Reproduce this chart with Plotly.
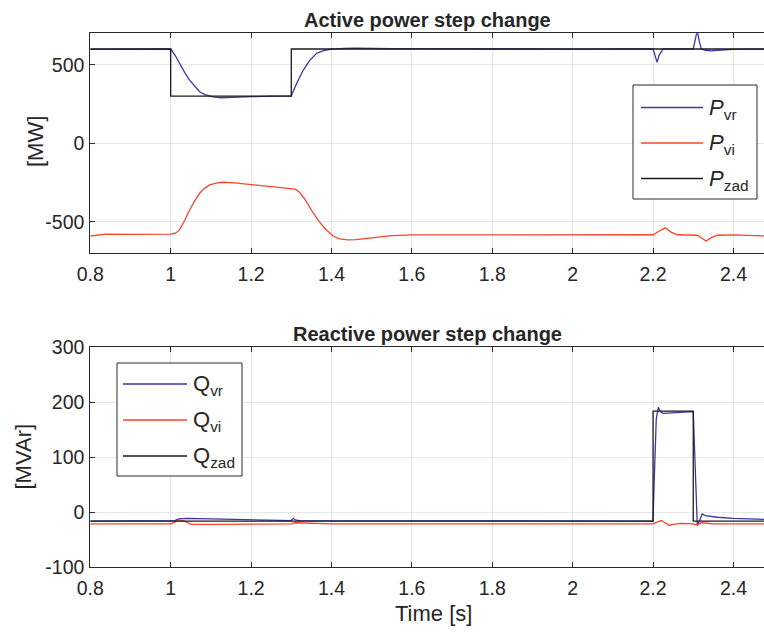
import plotly.graph_objects as go

# ---- Active power (MW) ----
t_pzad = [0.80, 1.00, 1.00, 1.30, 1.30, 2.48]
p_zad = [600, 600, 300, 300, 600, 600]

t_pvr = [0.80, 1.00, 1.011, 1.022, 1.035, 1.047, 1.06, 1.072, 1.085, 1.105, 1.125,
         1.15, 1.20, 1.25, 1.30, 1.315, 1.33, 1.345, 1.363, 1.38, 1.40, 1.43, 1.46,
         1.55, 1.70, 2.00, 2.20, 2.205, 2.21, 2.215, 2.225, 2.30, 2.305, 2.31, 2.315,
         2.32, 2.33, 2.345, 2.36, 2.40, 2.48]
p_vr = [598, 600, 560, 508, 450, 402, 360, 328, 310, 296, 290,
        291, 297, 300, 302, 390, 466, 525, 572, 590, 599, 604, 605,
        602, 600, 599, 600, 560, 515, 560, 600, 600, 650, 720, 650,
        600, 592, 588, 592, 598, 600]

t_pvi = [0.80, 0.84, 0.90, 1.00, 1.012, 1.022, 1.035, 1.047, 1.06, 1.072, 1.085,
         1.097, 1.115, 1.13, 1.16, 1.20, 1.25, 1.30, 1.31, 1.32, 1.335, 1.355, 1.37,
         1.385, 1.404, 1.42, 1.44, 1.46, 1.50, 1.55, 1.60, 2.00, 2.20, 2.215, 2.23,
         2.245, 2.26, 2.31, 2.32, 2.332, 2.345, 2.36, 2.40, 2.48]
p_vi = [-590, -578, -579, -578, -572, -551, -490, -424, -365, -318, -285,
        -265, -252, -248, -252, -262, -275, -285, -292, -310, -360, -445, -500,
        -545, -590, -608, -615, -613, -600, -588, -583, -583, -582, -560, -538,
        -565, -582, -585, -600, -622, -600, -585, -583, -590]

# ---- Reactive power (MVAr) ----
t_qzad = [0.80, 2.20, 2.20, 2.30, 2.30, 2.48]
q_zad = [-16, -16, 184, 184, -16, -16]

t_qvr = [0.80, 1.00, 1.01, 1.02, 1.04, 1.10, 1.20, 1.30, 1.305, 1.31, 1.32, 1.40,
         1.60, 2.00, 2.20, 2.203, 2.208, 2.213, 2.218, 2.225, 2.25, 2.30, 2.304,
         2.31, 2.316, 2.322, 2.33, 2.36, 2.40, 2.48]
q_vr = [-16, -16, -15, -12, -11, -12, -14, -15, -11, -14, -15, -15,
        -15, -15, -16, 60, 170, 191, 183, 180, 181, 183, 100,
        -24, -15, -3, -6, -9, -11, -13]

t_qvi = [0.80, 1.00, 1.01, 1.02, 1.035, 1.05, 1.10, 1.30, 1.31, 1.40, 2.00, 2.20,
         2.21, 2.22, 2.23, 2.24, 2.25, 2.27, 2.30, 2.31, 2.32, 2.35, 2.48]
q_vi = [-21, -21, -18, -14, -16, -22, -22, -21, -19, -21, -21, -21,
        -18, -15, -19, -24, -22, -20, -21, -23, -19, -21, -21]

x_ticks = [0.8, 1.0, 1.2, 1.4, 1.6, 1.8, 2.0, 2.2, 2.4]
x_ticktext = ["0.8", "1", "1.2", "1.4", "1.6", "1.8", "2", "2.2", "2.4"]
p_ticks = [-500, 0, 500]
p_ticktext = ["-500", "0", "500"]
q_ticks = [-100, 0, 100, 200, 300]
q_ticktext = ["-100", "0", "100", "200", "300"]

p_names = ["<i>P</i><sub>vr</sub>", "<i>P</i><sub>vi</sub>", "<i>P</i><sub>zad</sub>"]
q_names = ["Q<sub>vr</sub>", "Q<sub>vi</sub>", "Q<sub>zad</sub>"]

BLUE = "#3d35a8"
RED = "#f9452b"
BLACK = "#1a1a1a"
FRAME = "#2b2b2b"
GRID = "#e6e6e6"
TEXT = "#262626"
FONT = "Liberation Sans, Arial, sans-serif"
COLORS = [BLUE, RED, BLACK]

W, H = 764, 633
X0 = 90.3 / W


def px_x(p):
    return p / W


def px_y(p):
    return 1 - p / H


fig = go.Figure()

for t, v, c, n in zip([t_pvr, t_pvi, t_pzad], [p_vr, p_vi, p_zad], COLORS, p_names):
    fig.add_trace(go.Scatter(x=t, y=v, mode="lines", name=n,
                             line=dict(color=c, width=1.3),
                             xaxis="x", yaxis="y", showlegend=False))
for t, v, c, n in zip([t_qvr, t_qvi, t_qzad], [q_vr, q_vi, q_zad], COLORS, q_names):
    fig.add_trace(go.Scatter(x=t, y=v, mode="lines", name=n,
                             line=dict(color=c, width=1.3),
                             xaxis="x2", yaxis="y2", showlegend=False))

xcommon = dict(
    range=[0.8, 2.476], tickvals=x_ticks, ticktext=x_ticktext,
    showgrid=True, gridcolor=GRID, gridwidth=1, zeroline=False,
    showline=True, linecolor=FRAME, linewidth=1, mirror="ticks",
    ticks="inside", ticklen=5, tickcolor=FRAME, automargin=False,
    ticklabelstandoff=3,
    tickfont=dict(size=19.5, color=TEXT, family=FONT),
    domain=[X0, 1.0],
)
ycommon = dict(
    showgrid=True, gridcolor=GRID, gridwidth=1, zeroline=False,
    showline=True, linecolor=FRAME, linewidth=1, mirror=False,
    ticks="inside", ticklen=5, tickcolor=FRAME, automargin=False,
    ticklabelstandoff=1,
    tickfont=dict(size=19.5, color=TEXT, family=FONT),
)

fig.update_layout(
    width=W, height=H, autosize=False,
    margin=dict(l=0, r=0, t=0, b=0, pad=0),
    paper_bgcolor="white", plot_bgcolor="white",
    font=dict(family=FONT, color=TEXT),
    showlegend=False,
    xaxis=dict(xcommon, anchor="y"),
    yaxis=dict(ycommon, range=[-700, 700], tickvals=p_ticks, ticktext=p_ticktext,
               domain=[px_y(253.3), px_y(33.3)], anchor="x"),
    xaxis2=dict(xcommon, anchor="y2"),
    yaxis2=dict(ycommon, range=[-100, 300], tickvals=q_ticks, ticktext=q_ticktext,
                domain=[px_y(567.3), px_y(347.3)], anchor="x2"),
)

annots = [
    dict(text="<b>Active power step change</b>", x=px_x(427), y=px_y(19.5),
         xanchor="center", yanchor="middle", font=dict(size=20)),
    dict(text="<b>Reactive power step change</b>", x=px_x(427), y=px_y(334),
         xanchor="center", yanchor="middle", font=dict(size=20)),
    dict(text="Time [s]", x=px_x(433), y=px_y(613),
         xanchor="center", yanchor="middle", font=dict(size=22)),
    dict(text="[MW]", x=px_x(35), y=px_y(142), textangle=-90,
         xanchor="center", yanchor="middle", font=dict(size=22)),
    dict(text="[MVAr]", x=px_x(22.5), y=px_y(457), textangle=-90,
         xanchor="center", yanchor="middle", font=dict(size=22)),
]

# Legend boxes: (left, top, right, bottom) in pixels, line sample x-span, row centres
legends = [
    dict(box=(633, 85, 757, 199), line=(641, 703), rows=(107.5, 143, 178.5),
         text_x=707, names=p_names),
    dict(box=(117, 363, 242, 476), line=(123, 187), rows=(384, 420, 456),
         text_x=191, names=q_names),
]
shapes = []
for lg in legends:
    l, t, r, b = lg["box"]
    shapes.append(dict(type="rect", xref="paper", yref="paper",
                       x0=px_x(l), x1=px_x(r), y0=px_y(b), y1=px_y(t),
                       line=dict(color=FRAME, width=1), fillcolor="white",
                       layer="above"))
    for row, c, n in zip(lg["rows"], COLORS, lg["names"]):
        shapes.append(dict(type="line", xref="paper", yref="paper",
                           x0=px_x(lg["line"][0]), x1=px_x(lg["line"][1]),
                           y0=px_y(row), y1=px_y(row),
                           line=dict(color=c, width=1.3), layer="above"))
        annots.append(dict(text=n, x=px_x(lg["text_x"]), y=px_y(row + 1),
                           xanchor="left", yanchor="middle",
                           font=dict(size=22)))

for a in annots:
    a.update(xref="paper", yref="paper", showarrow=False)
    a["font"].update(family=FONT, color=TEXT)
fig.update_layout(annotations=annots, shapes=shapes)

fig.write_html("out.html")
